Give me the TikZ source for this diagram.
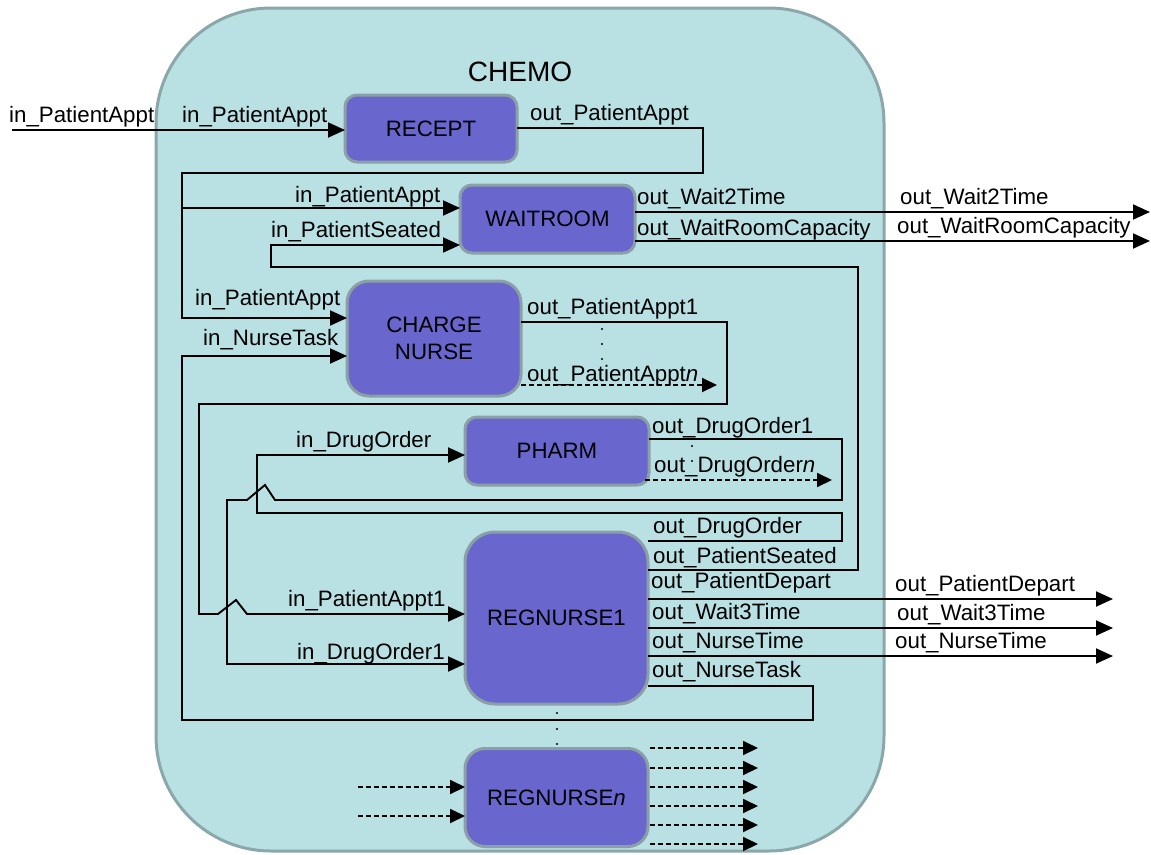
\documentclass[tikz,border=0pt]{standalone}
\usepackage{fontspec}
\setmainfont{Liberation Sans}
\usetikzlibrary{arrows.meta}
\definecolor{chemofill}{RGB}{185,224,227}
\definecolor{chemoline}{RGB}{138,168,170}
\definecolor{blkfill}{RGB}{105,102,206}
\definecolor{blkline}{RGB}{138,160,166}
\newcommand{\dgmfont}{\fontsize{22.3}{27.5}\selectfont}
\tikzset{
  chemobox/.style={draw=chemoline, fill=chemofill, line width=3pt, rounded corners=115pt, inner sep=0pt, outer sep=0pt},
  blk/.style={draw=blkline, fill=blkfill, line width=3pt, inner sep=0pt, outer sep=0pt, align=center, font=\dgmfont},
  lab/.style={inner sep=0pt, anchor=base west, font=\dgmfont},
  wire/.style={line width=1.9pt, line join=miter},
  arr/.style={wire, -{Triangle[length=17pt,width=15pt]}},
  darr/.style={wire, dash pattern=on 5pt off 3pt, -{Triangle[length=15pt,width=14pt]}},
  dot/.style={fill=black}
}
\begin{document}
\begin{tikzpicture}[x=1pt,y=-1pt]
\useasboundingbox (0,0) rectangle (1151,854);
% container
\node[chemobox, minimum width=728pt, minimum height=843pt] (chemo) at (520,429.5) {};
\node[font=\fontsize{28}{32}\selectfont, anchor=base, inner sep=0pt] (chemotitle) at (520,81) {CHEMO};
% blocks
\node[blk, rounded corners=12pt, minimum width=172pt, minimum height=67pt] (recept) at (431,128.5) {RECEPT};
\node[blk, rounded corners=12pt, minimum width=175pt, minimum height=68pt] (waitroom) at (547.5,219) {WAITROOM};
\node[blk, rounded corners=22pt, minimum width=174pt, minimum height=115pt] (charge) at (434,338.5) {CHARGE\\NURSE};
\node[blk, rounded corners=12pt, minimum width=184pt, minimum height=68pt] (pharm) at (557,451) {PHARM};
\node[blk, rounded corners=30pt, minimum width=183pt, minimum height=172pt] (reg1) at (556.5,618) {REGNURSE1};
\node[blk, rounded corners=20pt, minimum width=183pt, minimum height=98pt] (regn) at (556.5,797.5) {REGNURSE\textit{n}};
% free ends / junctions
\coordinate (extin) at (12,130);
\coordinate (j1) at (182,208);
\coordinate (wt2) at (1150,212);
\coordinate (wrc) at (1150,241);
\coordinate (pdep) at (1113,599);
\coordinate (w3t) at (1113,628);
\coordinate (nt) at (1113,656);
\coordinate (pan) at (717,385);
\coordinate (don) at (832,480);
% connectors
\draw[arr] (extin) -- (recept.west |- extin);
\draw[arr] (recept.east |- 0,128) -- (703,128) -- (703,173) -- (182,173) -- (182,318) -- (charge.west |- 0,318);
\draw[arr] (j1) -- (waitroom.west |- j1);
\draw[arr] (reg1.east |- 0,570) -- (858,570) -- (858,267) -- (271,267) -- (271,245) -- (waitroom.west |- 0,245);
\draw[arr] (waitroom.east |- wt2) -- (wt2);
\draw[arr] (waitroom.east |- wrc) -- (wrc);
\draw[arr] (reg1.east |- 0,686) -- (813,686) -- (813,720) -- (182,720) -- (182,356) -- (charge.west |- 0,356);
\draw[arr] (charge.east |- 0,322) -- (727,322) -- (727,404) -- (199,404) -- (199,614) -- (218,614) -- (236,600) -- (247,614) -- (reg1.west |- 0,614);
\draw[darr] (charge.east |- pan) -- (pan);
\draw[arr] (reg1.east |- 0,541) -- (842,541) -- (842,513) -- (257,513) -- (257,455) -- (pharm.west |- 0,455);
\draw[arr] (pharm.east |- 0,439) -- (842,439) -- (842,500) -- (275,500) -- (265,485) -- (247,500) -- (227,500) -- (227,664) -- (reg1.west |- 0,664);
\draw[darr] (645,480) -- (don);
\draw[arr] (reg1.east |- pdep) -- (pdep);
\draw[arr] (reg1.east |- w3t) -- (w3t);
\draw[arr] (reg1.east |- nt) -- (nt);
% REGNURSEn dashed
\coordinate (ni1) at (358,787);
\coordinate (ni2) at (358,816);
\draw[darr] (ni1) -- (regn.west |- ni1);
\draw[darr] (ni2) -- (regn.west |- ni2);
\foreach \yy/\nm in {748/o1,768/o2,787/o3,806/o4,825/o5,844/o6}{
  \coordinate (\nm) at (758,\yy);
  \draw[darr] (650,\yy) -- (\nm);
}
% dots
\foreach \yy in {329,344,359} \fill[dot] (602,\yy) circle (1.1pt);
\foreach \yy in {446,461} \fill[dot] (692,\yy) circle (1.1pt);
\foreach \yy in {713,729,744} \fill[dot] (557,\yy) circle (1.1pt);
% labels
\node[lab] (l1) at (9,122) {in\_PatientAppt};
\node[lab] (l2) at (182,122) {in\_PatientAppt};
\node[lab] (l3) at (530,120) {out\_PatientAppt};
\node[lab] (l4) at (295,202) {in\_PatientAppt};
\node[lab] (l5) at (271,237) {in\_PatientSeated};
\node[lab] (l6) at (637,204) {out\_Wait2Time};
\node[lab] (l7) at (637,235) {out\_WaitRoomCapacity};
\node[lab] (l8) at (900,204) {out\_Wait2Time};
\node[lab] (l9) at (897,233) {out\_WaitRoomCapacity};
\node[lab] (l10) at (195,305) {in\_PatientAppt};
\node[lab] (l11) at (203,345) {in\_NurseTask};
\node[lab] (l12) at (527,314) {out\_PatientAppt1};
\node[lab] (l13) at (527,381) {out\_PatientAppt\textit{n}};
\node[lab] (l14) at (296,447) {in\_DrugOrder};
\node[lab] (l15) at (652,433) {out\_DrugOrder1};
\node[lab] (l16) at (654,472) {out\_DrugOrder\textit{n}};
\node[lab] (l17) at (653,533) {out\_DrugOrder};
\node[lab] (l18) at (653,563) {out\_PatientSeated};
\node[lab] (l19) at (651,588) {out\_PatientDepart};
\node[lab] (l20) at (652,619) {out\_Wait3Time};
\node[lab] (l21) at (652,648) {out\_NurseTime};
\node[lab] (l22) at (652,677) {out\_NurseTask};
\node[lab] (l23) at (288,606) {in\_PatientAppt1};
\node[lab] (l24) at (297,659) {in\_DrugOrder1};
\node[lab] (l25) at (895,591) {out\_PatientDepart};
\node[lab] (l26) at (897,620) {out\_Wait3Time};
\node[lab] (l27) at (895,648) {out\_NurseTime};
\end{tikzpicture}
\end{document}
